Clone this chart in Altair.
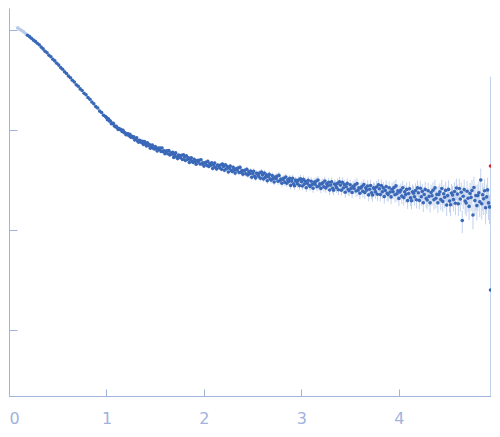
import altair as alt
import pandas as pd

# scattering vector q (1/nm)
q = [
    0.09, 0.11, 0.13, 0.15, 0.17, 0.19, 0.21, 0.23, 0.25, 0.27,
    0.29, 0.31, 0.33, 0.35, 0.37, 0.39, 0.41, 0.43, 0.45, 0.47,
    0.49, 0.51, 0.53, 0.55, 0.57, 0.59, 0.61, 0.63, 0.65, 0.67,
    0.69, 0.71, 0.73, 0.75, 0.77, 0.79, 0.81, 0.83, 0.85, 0.87,
    0.89, 0.91, 0.93, 0.95, 0.97, 0.99,
    1.00, 1.01, 1.02, 1.03, 1.04, 1.05, 1.06, 1.07, 1.08, 1.09,
    1.10, 1.11, 1.12, 1.13, 1.14, 1.15, 1.16, 1.17, 1.18, 1.19,
    1.20, 1.21, 1.22, 1.23, 1.24, 1.25, 1.26, 1.27, 1.28, 1.29,
    1.30, 1.31, 1.32, 1.33, 1.34, 1.35, 1.36, 1.37, 1.38, 1.39,
    1.40, 1.41, 1.42, 1.43, 1.44, 1.45, 1.46, 1.47, 1.48, 1.49,
    1.50, 1.51, 1.52, 1.53, 1.54, 1.55, 1.56, 1.57, 1.58, 1.59,
    1.60, 1.61, 1.62, 1.63, 1.64, 1.65, 1.66, 1.67, 1.68, 1.69,
    1.70, 1.71, 1.72, 1.73, 1.74, 1.75, 1.76, 1.77, 1.78, 1.79,
    1.80, 1.81, 1.82, 1.83, 1.84, 1.85, 1.86, 1.87, 1.88, 1.89,
    1.90, 1.91, 1.92, 1.93, 1.94, 1.95, 1.96, 1.97, 1.98, 1.99,
    2.00, 2.01, 2.02, 2.03, 2.04, 2.05, 2.06, 2.07, 2.08, 2.09,
    2.10, 2.11, 2.12, 2.13, 2.14, 2.15, 2.16, 2.17, 2.18, 2.19,
    2.20, 2.21, 2.22, 2.23, 2.24, 2.25, 2.26, 2.27, 2.28, 2.29,
    2.30, 2.31, 2.32, 2.33, 2.34, 2.35, 2.36, 2.37, 2.38, 2.39,
    2.40, 2.41, 2.42, 2.43, 2.44, 2.45, 2.46, 2.47, 2.48, 2.49,
    2.50, 2.51, 2.52, 2.53, 2.54, 2.55, 2.56, 2.57, 2.58, 2.59,
    2.60, 2.61, 2.62, 2.63, 2.64, 2.65, 2.66, 2.67, 2.68, 2.69,
    2.70, 2.71, 2.72, 2.73, 2.74, 2.75, 2.76, 2.77, 2.78, 2.79,
    2.80, 2.81, 2.82, 2.83, 2.84, 2.85, 2.86, 2.87, 2.88, 2.89,
    2.90, 2.91, 2.92, 2.93, 2.94, 2.95, 2.96, 2.97, 2.98, 2.99,
    3.00, 3.01, 3.02, 3.03, 3.04, 3.05, 3.06, 3.07, 3.08, 3.09,
    3.10, 3.11, 3.12, 3.13, 3.14, 3.15, 3.16, 3.17, 3.18, 3.19,
    3.20, 3.21, 3.22, 3.23, 3.24, 3.25, 3.26, 3.27, 3.28, 3.29,
    3.30, 3.31, 3.32, 3.33, 3.34, 3.35, 3.36, 3.37, 3.38, 3.39,
    3.40, 3.41, 3.42, 3.43, 3.44, 3.45, 3.46, 3.47, 3.48, 3.49,
    3.50, 3.51, 3.52, 3.53, 3.54, 3.55, 3.56, 3.57, 3.58, 3.59,
    3.60, 3.61, 3.62, 3.63, 3.64, 3.65, 3.66, 3.67, 3.68, 3.69,
    3.70, 3.71, 3.72, 3.73, 3.74, 3.75, 3.76, 3.77, 3.78, 3.79,
    3.80, 3.81, 3.82, 3.83, 3.84, 3.85, 3.86, 3.87, 3.88, 3.89,
    3.90, 3.91, 3.92, 3.93, 3.94, 3.95, 3.96, 3.97, 3.98, 3.99,
    4.00, 4.01, 4.02, 4.03, 4.04, 4.05, 4.06, 4.07, 4.08, 4.09,
    4.10, 4.11, 4.12, 4.13, 4.14, 4.15, 4.16, 4.17, 4.18, 4.19,
    4.20, 4.21, 4.22, 4.23, 4.24, 4.25, 4.26, 4.27, 4.28, 4.29,
    4.30, 4.31, 4.32, 4.33, 4.34, 4.35, 4.36, 4.37, 4.38, 4.39,
    4.40, 4.41, 4.42, 4.43, 4.44, 4.45, 4.46, 4.47, 4.48, 4.49,
    4.50, 4.51, 4.52, 4.53, 4.54, 4.55, 4.56, 4.57, 4.58, 4.59,
    4.60, 4.61, 4.62, 4.63, 4.64, 4.65, 4.66, 4.67, 4.68, 4.69,
    4.70, 4.71, 4.72, 4.73, 4.74, 4.75, 4.76, 4.77, 4.78, 4.79,
    4.80, 4.81, 4.82, 4.83, 4.84, 4.85, 4.86, 4.87, 4.88, 4.89,
    4.90, 4.91, 4.92, 4.93, 4.94,
]

# log10 of the intensity
log_intensity = [
    0.021, 0.008, -0.006, -0.019, -0.036, -0.052, -0.066, -0.083, -0.101, -0.114,
    -0.132, -0.148, -0.171, -0.189, -0.212, -0.228, -0.252, -0.268, -0.292, -0.309,
    -0.333, -0.351, -0.376, -0.393, -0.418, -0.435, -0.461, -0.478, -0.503, -0.520,
    -0.547, -0.562, -0.589, -0.605, -0.632, -0.648, -0.675, -0.692, -0.720, -0.737,
    -0.766, -0.780, -0.811, -0.825, -0.853, -0.866,
    -0.876, -0.897, -0.887, -0.909, -0.910, -0.937, -0.933, -0.933, -0.957, -0.968,
    -0.963, -0.978, -0.994, -0.985, -0.996, -0.995, -1.015, -1.004, -1.026, -1.027,
    -1.047, -1.038, -1.038, -1.058, -1.043, -1.072, -1.063, -1.076, -1.068, -1.100,
    -1.088, -1.079, -1.110, -1.123, -1.102, -1.111, -1.126, -1.113, -1.144, -1.115,
    -1.133, -1.159, -1.128, -1.156, -1.145, -1.182, -1.162, -1.150, -1.181, -1.189,
    -1.165, -1.187, -1.210, -1.181, -1.194, -1.180, -1.214, -1.180, -1.216, -1.207,
    -1.237, -1.214, -1.208, -1.237, -1.205, -1.249, -1.228, -1.243, -1.224, -1.274,
    -1.247, -1.229, -1.271, -1.286, -1.250, -1.259, -1.277, -1.253, -1.295, -1.247,
    -1.271, -1.304, -1.259, -1.295, -1.277, -1.325, -1.295, -1.277, -1.316, -1.325,
    -1.292, -1.316, -1.342, -1.306, -1.320, -1.302, -1.340, -1.298, -1.339, -1.327,
    -1.361, -1.331, -1.323, -1.354, -1.314, -1.364, -1.337, -1.352, -1.329, -1.385,
    -1.352, -1.331, -1.375, -1.390, -1.350, -1.359, -1.377, -1.350, -1.393, -1.341,
    -1.364, -1.402, -1.347, -1.388, -1.365, -1.420, -1.383, -1.361, -1.405, -1.414,
    -1.374, -1.401, -1.431, -1.387, -1.403, -1.380, -1.425, -1.374, -1.422, -1.406,
    -1.443, -1.411, -1.402, -1.437, -1.393, -1.449, -1.419, -1.437, -1.410, -1.473,
    -1.436, -1.412, -1.463, -1.480, -1.433, -1.442, -1.463, -1.431, -1.483, -1.420,
    -1.449, -1.489, -1.430, -1.474, -1.449, -1.508, -1.468, -1.444, -1.491, -1.501,
    -1.456, -1.486, -1.520, -1.470, -1.488, -1.462, -1.512, -1.454, -1.508, -1.490,
    -1.532, -1.494, -1.483, -1.521, -1.470, -1.532, -1.497, -1.515, -1.484, -1.554,
    -1.511, -1.483, -1.539, -1.558, -1.504, -1.515, -1.537, -1.501, -1.556, -1.487,
    -1.517, -1.560, -1.494, -1.541, -1.513, -1.577, -1.532, -1.503, -1.555, -1.564,
    -1.513, -1.546, -1.583, -1.524, -1.543, -1.512, -1.568, -1.501, -1.560, -1.538,
    -1.584, -1.540, -1.527, -1.568, -1.510, -1.579, -1.539, -1.559, -1.522, -1.600,
    -1.551, -1.519, -1.582, -1.602, -1.541, -1.551, -1.576, -1.534, -1.598, -1.517,
    -1.551, -1.602, -1.523, -1.580, -1.546, -1.622, -1.568, -1.534, -1.596, -1.607,
    -1.548, -1.584, -1.625, -1.562, -1.583, -1.549, -1.610, -1.536, -1.603, -1.579,
    -1.632, -1.581, -1.566, -1.613, -1.546, -1.625, -1.579, -1.601, -1.560, -1.649,
    -1.592, -1.555, -1.627, -1.650, -1.579, -1.590, -1.619, -1.570, -1.642, -1.549,
    -1.588, -1.646, -1.556, -1.618, -1.579, -1.666, -1.604, -1.565, -1.634, -1.646,
    -1.577, -1.620, -1.669, -1.592, -1.617, -1.575, -1.648, -1.559, -1.638, -1.609,
    -1.684, -1.620, -1.601, -1.661, -1.577, -1.676, -1.618, -1.646, -1.594, -1.706,
    -1.635, -1.587, -1.679, -1.707, -1.617, -1.632, -1.668, -1.606, -1.697, -1.579,
    -1.627, -1.704, -1.583, -1.667, -1.614, -1.728, -1.645, -1.594, -1.684, -1.700,
    -1.607, -1.664, -1.728, -1.625, -1.657, -1.602, -1.698, -1.579, -1.683, -1.644,
    -1.728, -1.644, -1.618, -1.696, -1.585, -1.714, -1.637, -1.673, -1.604, -1.750,
    -1.656, -1.594, -1.711, -1.748, -1.631, -1.650, -1.695, -1.615, -1.732, -1.580,
    -1.641, -1.737, -1.585, -1.690, -1.623, -1.905, -1.662, -1.596, -1.711, -1.730,
    -1.613, -1.683, -1.764, -1.634, -1.674, -1.605, -1.850, -1.575, -1.706, -1.656,
    -1.756, -1.656, -1.627, -1.717, -1.500, -1.737, -1.648, -1.688, -1.608, -1.778,
    -1.669, -1.599, -1.729, -1.769, -2.600,
]

# relative uncertainty sigma / I
rel_error = [
    0.010, 0.010, 0.010, 0.010, 0.010, 0.010, 0.010, 0.010, 0.010, 0.010,
    0.010, 0.010, 0.010, 0.010, 0.010, 0.010, 0.010, 0.010, 0.010, 0.010,
    0.010, 0.011, 0.010, 0.011, 0.010, 0.011, 0.012, 0.011, 0.012, 0.012,
    0.012, 0.013, 0.012, 0.013, 0.014, 0.013, 0.014, 0.015, 0.014, 0.015,
    0.015, 0.016, 0.016, 0.017, 0.017, 0.018,
    0.020, 0.020, 0.020, 0.021, 0.021, 0.021, 0.021, 0.022, 0.022, 0.022,
    0.022, 0.022, 0.023, 0.023, 0.023, 0.023, 0.024, 0.024, 0.024, 0.024,
    0.024, 0.024, 0.025, 0.025, 0.025, 0.025, 0.026, 0.026, 0.026, 0.026,
    0.026, 0.026, 0.027, 0.027, 0.027, 0.027, 0.028, 0.028, 0.028, 0.028,
    0.028, 0.028, 0.029, 0.029, 0.029, 0.029, 0.030, 0.030, 0.030, 0.030,
    0.030, 0.030, 0.031, 0.031, 0.031, 0.032, 0.032, 0.032, 0.033, 0.033,
    0.033, 0.033, 0.034, 0.034, 0.034, 0.035, 0.035, 0.035, 0.036, 0.036,
    0.036, 0.036, 0.037, 0.037, 0.037, 0.038, 0.038, 0.038, 0.039, 0.039,
    0.039, 0.039, 0.040, 0.040, 0.040, 0.041, 0.041, 0.041, 0.042, 0.042,
    0.042, 0.042, 0.043, 0.043, 0.043, 0.044, 0.044, 0.044, 0.045, 0.045,
    0.045, 0.045, 0.046, 0.046, 0.047, 0.047, 0.047, 0.048, 0.048, 0.049,
    0.049, 0.049, 0.050, 0.050, 0.051, 0.051, 0.051, 0.052, 0.052, 0.053,
    0.053, 0.053, 0.054, 0.054, 0.055, 0.055, 0.055, 0.056, 0.056, 0.057,
    0.057, 0.057, 0.058, 0.058, 0.059, 0.059, 0.059, 0.060, 0.060, 0.061,
    0.061, 0.061, 0.062, 0.062, 0.063, 0.063, 0.064, 0.064, 0.065, 0.065,
    0.066, 0.066, 0.067, 0.067, 0.068, 0.068, 0.069, 0.069, 0.070, 0.070,
    0.071, 0.071, 0.072, 0.072, 0.073, 0.073, 0.074, 0.074, 0.075, 0.075,
    0.076, 0.076, 0.077, 0.077, 0.078, 0.078, 0.079, 0.079, 0.080, 0.080,
    0.081, 0.081, 0.082, 0.082, 0.083, 0.083, 0.084, 0.084, 0.085, 0.085,
    0.086, 0.086, 0.087, 0.088, 0.088, 0.089, 0.089, 0.090, 0.091, 0.091,
    0.092, 0.092, 0.093, 0.094, 0.094, 0.095, 0.095, 0.096, 0.097, 0.097,
    0.098, 0.098, 0.099, 0.100, 0.100, 0.101, 0.101, 0.102, 0.103, 0.103,
    0.104, 0.104, 0.105, 0.106, 0.106, 0.107, 0.107, 0.108, 0.109, 0.109,
    0.110, 0.111, 0.111, 0.112, 0.113, 0.113, 0.114, 0.115, 0.115, 0.116,
    0.117, 0.118, 0.118, 0.119, 0.120, 0.120, 0.121, 0.122, 0.122, 0.123,
    0.124, 0.125, 0.125, 0.126, 0.127, 0.127, 0.128, 0.129, 0.129, 0.130,
    0.131, 0.132, 0.133, 0.133, 0.134, 0.135, 0.136, 0.136, 0.137, 0.138,
    0.139, 0.140, 0.141, 0.141, 0.142, 0.143, 0.144, 0.144, 0.145, 0.146,
    0.147, 0.148, 0.149, 0.149, 0.150, 0.151, 0.152, 0.152, 0.153, 0.154,
    0.155, 0.156, 0.157, 0.158, 0.159, 0.160, 0.161, 0.162, 0.163, 0.164,
    0.165, 0.166, 0.167, 0.168, 0.169, 0.170, 0.171, 0.172, 0.173, 0.174,
    0.175, 0.176, 0.177, 0.178, 0.179, 0.181, 0.182, 0.183, 0.184, 0.185,
    0.186, 0.187, 0.188, 0.190, 0.191, 0.192, 0.193, 0.194, 0.196, 0.197,
    0.198, 0.199, 0.201, 0.202, 0.204, 0.205, 0.206, 0.208, 0.209, 0.211,
    0.212, 0.214, 0.215, 0.217, 0.218, 0.220, 0.221, 0.223, 0.225, 0.226,
    0.228, 0.230, 0.231, 0.233, 0.235, 0.236, 0.238, 0.240, 0.241, 0.243,
    0.245, 0.247, 0.249, 0.251, 0.253, 0.255, 0.257, 0.259, 0.261, 0.263,
    0.265, 0.267, 0.270, 0.272, 0.275, 0.277, 0.280, 0.282, 0.285, 0.287,
    0.290, 0.293, 0.296, 0.299, 0.302, 0.305, 0.308, 0.311, 0.314, 0.317,
    0.320, 0.323, 0.326, 0.329, 135.0,
]

# low-q points excluded from the analysis (drawn pale)
excluded_q = [0.09, 0.11, 0.13, 0.15, 0.17]

# flagged outlier point (drawn red)
outlier_q = [4.94]
outlier_log_intensity = [-1.36]

df = pd.DataFrame({"q": q, "logI": log_intensity, "rel": rel_error})
df["I"] = 10 ** df["logI"]
df["lo"] = (df["I"] * (1 - df["rel"])).clip(lower=1e-6)
df["hi"] = df["I"] * (1 + df["rel"])
df["status"] = "used"
df.loc[df["q"].isin(excluded_q), "status"] = "excluded"

out = pd.DataFrame({"q": outlier_q, "logI": outlier_log_intensity})
out["I"] = 10 ** out["logI"]
out["status"] = "outlier"

axis_col = "#9fb3dd"
W, H = 482, 388
xscale = alt.Scale(domain=[0, 4.945], nice=False, zero=False)
yscale = alt.Scale(type="log", domain=[10 ** -3.66, 10 ** 0.22], nice=False)

xaxis = alt.Axis(
    orient="top", offset=-H, values=[0, 1, 2, 3, 4], format="d",
    tickSize=7, labelPadding=-21, labelBaseline="top",
    labelFontSize=16, labelFont="DejaVu Sans", labelColor=axis_col,
    domainColor=axis_col, tickColor=axis_col, grid=False, title=None,
)
yaxis = alt.Axis(
    orient="right", offset=-W, values=[0.001, 0.01, 0.1, 1],
    tickSize=8, labels=False, domainColor=axis_col, tickColor=axis_col,
    grid=False, title=None,
)

color_scale = alt.Scale(domain=["excluded", "used", "outlier"],
                        range=["#b9cae8", "#3a68b8", "#d62728"])

bars = alt.Chart(df).mark_rule(color="#c3d2ee", strokeWidth=1, clip=True).encode(
    x=alt.X("q:Q", scale=xscale, axis=xaxis),
    y=alt.Y("lo:Q", scale=yscale, axis=yaxis),
    y2="hi:Q",
)

pts = alt.Chart(pd.concat([df, out], ignore_index=True)).mark_circle(
    size=13, opacity=1, clip=True
).encode(
    x=alt.X("q:Q", scale=xscale, axis=xaxis),
    y=alt.Y("I:Q", scale=yscale, axis=yaxis),
    color=alt.Color("status:N", scale=color_scale, legend=None),
)

chart = alt.layer(bars, pts).properties(
    width=W, height=H,
    padding={"left": 0, "top": 0, "right": 0, "bottom": 0},
).configure_view(stroke=None)

chart.save("out.html", embed_options={"renderer": "svg", "actions": False})
